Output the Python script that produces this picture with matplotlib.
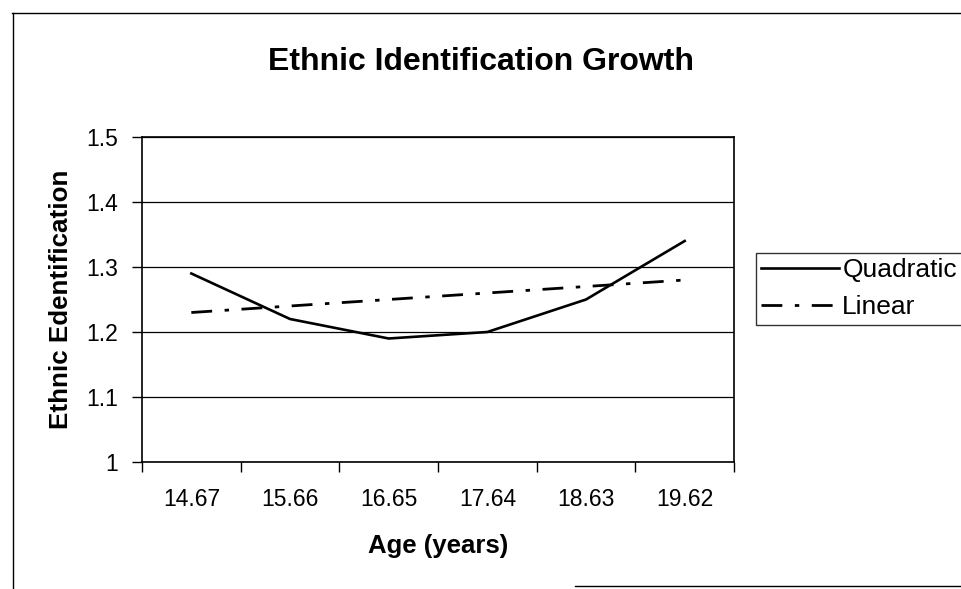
import matplotlib
matplotlib.use("Agg")
import matplotlib.pyplot as plt
from matplotlib.lines import Line2D

plt.rcParams['font.family'] = ['Liberation Sans', 'DejaVu Sans']

ages = ["14.67", "15.66", "16.65", "17.64", "18.63", "19.62"]
quadratic = [1.29, 1.22, 1.19, 1.20, 1.25, 1.34]
linear = [1.23, 1.24, 1.25, 1.26, 1.27, 1.28]
yticks = [1.0, 1.1, 1.2, 1.3, 1.4, 1.5]
ytick_labels = ["1", "1.1", "1.2", "1.3", "1.4", "1.5"]

W, H = 961, 589
fig = plt.figure(figsize=(W / 100, H / 100), dpi=100)
fig.patch.set_facecolor("white")

# plot area in pixel coordinates
left, right, top, bottom = 142, 734, 137, 462
ax = fig.add_axes([left / W, 1 - bottom / H, (right - left) / W, (bottom - top) / H])

x = list(range(len(ages)))
ax.plot(x, quadratic, color="black", lw=1.9, label="Quadratic", solid_joinstyle="miter")
ax.plot(x, linear, color="black", lw=2.0, label="Linear",
        dashes=(7.5, 4.5, 1.6, 4.5))

ax.set_xlim(-0.5, len(ages) - 0.5)
ax.set_ylim(1.0, 1.5)

# category labels centred, tick marks on category boundaries
ax.set_xticks(x)
ax.set_xticklabels(ages, fontsize=16.5)
ax.tick_params(axis="x", which="major", length=0, pad=19)
ax.set_xticks([i - 0.5 for i in range(len(ages) + 1)], minor=True)
ax.tick_params(axis="x", which="minor", length=7, width=1, direction="out", color="black")

ax.set_yticks(yticks)
ax.set_yticklabels(ytick_labels, fontsize=16.5)
ax.tick_params(axis="y", length=7, width=1, direction="out", pad=10)

ax.grid(axis="y", color="black", lw=0.9)
ax.set_axisbelow(True)
for s in ax.spines.values():
    s.set_color("black")
    s.set_linewidth(1.2)

ax.set_xlabel("Age (years)", fontsize=18.5, fontweight="bold", labelpad=16)
ax.set_ylabel("Ethnic Edentification", fontsize=18.7, fontweight="bold", labelpad=10)

fig.text(481 / W, 1 - 62 / H, "Ethnic Identification Growth", fontsize=23,
         fontweight="bold", ha="center", va="center")

leg = fig.legend(loc="upper left", bbox_to_anchor=(756 / W, 1 - 253 / H),
                 bbox_transform=fig.transFigure, fontsize=19, frameon=True,
                 fancybox=False, edgecolor="black", borderaxespad=0,
                 handlelength=2.95, handletextpad=0.12, labelspacing=0.5,
                 borderpad=0.2)
leg.get_frame().set_linewidth(1.0)

# outer chart border
border = dict(color="black", lw=1.0, transform=None)
fig.add_artist(Line2D([12, W], [H - 13, H - 13], **border))
fig.add_artist(Line2D([12.5, 12.5], [0, H - 13], **border))
fig.add_artist(Line2D([575, W], [H - 586, H - 586], **border))

fig.savefig("out.png", dpi=100)
